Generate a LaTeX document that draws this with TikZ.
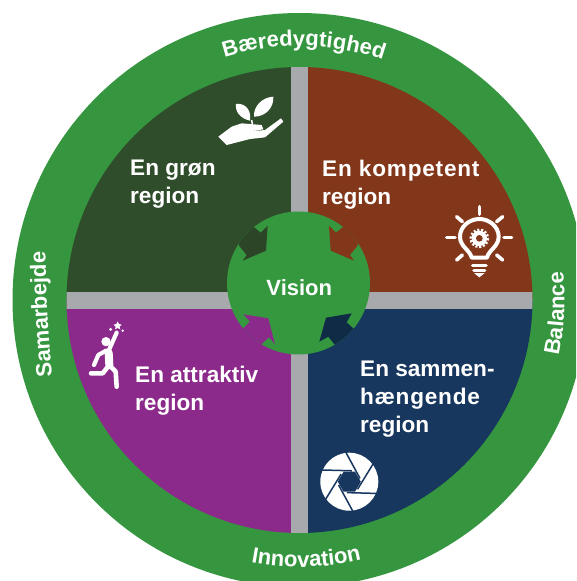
\documentclass[tikz,border=0pt]{standalone}
\usepackage{fontspec}
\setmainfont{Liberation Sans}
\usetikzlibrary{decorations.text}
\definecolor{ringgreen}{HTML}{35963F}
\definecolor{hubgreen}{HTML}{35983F}
\definecolor{qgreen}{HTML}{2F4D2B}
\definecolor{qbrown}{HTML}{82371A}
\definecolor{qpurple}{HTML}{8B2A8B}
\definecolor{qblue}{HTML}{17375E}
\definecolor{notchgreen}{HTML}{2C4526}
\definecolor{notchblue}{HTML}{0F2B45}
\definecolor{bargrey}{HTML}{A7A9AD}
\newcommand{\widerline}[1]{{\addfontfeature{LetterSpace=3.5}#1}}
\tikzset{
  x=1pt,y=1pt,
  qlabel/.style={text=white,anchor=north west,inner sep=0pt,align=left,font=\fontsize{22.6}{28}\selectfont\bfseries},
  hublabel/.style={text=white,inner sep=0pt,font=\fontsize{22}{26}\selectfont\bfseries},
  ringtext/.style={decorate,decoration={text along path,text align=center,
     text={|\fontsize{22}{26}\selectfont\bfseries\color{white}|#1}}},
  iconline/.style={draw=white,line cap=round,line join=round,fill=none},
}
\begin{document}
\begin{tikzpicture}
\useasboundingbox (0,0) rectangle (576,-581);
\clip (0,0) rectangle (576,-581);
\fill[white] (0,0) rectangle (576,-581);
\coordinate (c) at (299.5,-300);
% outer ring
\fill[ringgreen] (c) circle[radius=287];
% quadrants
\begin{scope}
  \clip (c) circle[radius=233];
  \fill[qgreen] (0,0) rectangle (299.5,-300);
  \fill[qbrown] (299.5,0) rectangle (576,-300);
  \fill[qpurple] (0,-300) rectangle (299.5,-581);
  \fill[qblue] (299.5,-300) rectangle (576,-581);
  \fill[bargrey] (291,0) rectangle (308,-581);
  \fill[bargrey] (0,-292) rectangle (576,-309);
\end{scope}
% ring text
\path[ringtext={Samarbejde}] (52.5,-379) .. controls (48,-335) and (46,-295) .. (45.5,-249);
\begin{scope}[shift={(c)}]
  \path[ringtext={Bæredygtighed}] (112:254) arc[start angle=112,end angle=66,radius=254];
  \path[ringtext={Innovation}] (-105:267) arc[start angle=-105,end angle=-72,radius=267];
  \path[ringtext={Balance}] (-14:265) arc[start angle=-14,end angle=8,radius=265];
\end{scope}
% hub
\fill[hubgreen] (298.5,-283) circle[radius=71.5];
\begin{scope}
  \clip (298.5,-283) circle[radius=71.5];
  \begin{scope}[shift={(190,-190)},x=0.33333pt,y=-0.33333pt]
    \fill[notchgreen] (130,100)--(190,110)--(212,128)--(233,107)--(228,182)--(158,212)--(170,195)--(148,168)--cycle;
    \fill[qbrown] (520,100)--(460,110)--(438,128)--(417,107)--(422,182)--(492,212)--(480,195)--(502,168)--cycle;
  \end{scope}
  \fill[qpurple] (235,-350)--(243.3,-328.3)--(250,-321.7)--(243.3,-314.3)--(268.3,-318.3)--(275,-344.3)--(269,-337.3)--(261.7,-344)--cycle;
  \fill[notchblue] (365,-350)--(335,-345)--(328.3,-336.7)--(319.3,-341.7)--(326,-317.7)--(351.7,-313.3)--(346.7,-322.3)--(355,-330)--cycle;
\end{scope}
\node[hublabel] (vision) at (299.3,-287.7) {Vision};
% quadrant labels
\node[qlabel] (green) at (130,-160) {En grøn\\region};
\node[qlabel] (comp) at (322,-160) {\widerline{En kompetent}\\region};
\node[qlabel] (attr) at (135,-366) {En attraktiv\\region};
\node[qlabel] (conn) at (360,-361) {En sammen-\\\widerline{hængende}\\region};
% plant in hand icon
\begin{scope}[shift={(200,-80)},x=0.33333pt,y=-0.33333pt]
  \fill[white] (150,122) .. controls (120,115) and (105,95) .. (108,72) .. controls (135,68) and (155,90) .. cycle;
  \fill[white] (162,110) .. controls (160,80) and (185,52) .. (220,50) .. controls (222,85) and (195,110) .. cycle;
  \draw[white,line width=1.5pt] (155,120)--(157,132);
  \fill[white] (55,170)--(95,140)--(125,130)--(185,135)--(190,148)--(145,155)--(195,150)--(243,115)--(250,125)--(195,172)--(150,177)--(80,195)--cycle;
\end{scope}
% bulb icon
\begin{scope}[shift={(430,-195)},x=0.33333pt,y=-0.33333pt]
  \draw[iconline,line width=4pt] (125,188) .. controls (120,165) and (90,155) .. (90,125) .. controls (90,95) and (118,72) .. (148,72) .. controls (178,72) and (206,95) .. (206,125) .. controls (206,155) and (176,165) .. (171,188) -- cycle;
  \draw[white,line width=3pt,dash pattern=on 2pt off 1.7pt] (148,130) circle[radius=25];
  \fill[white] (148,130) circle[radius=23];
  \fill[qbrown] (148,130) circle[radius=10];
  \draw[iconline,line width=3.6pt] (128,212)--(168,212);
  \draw[iconline,line width=3.6pt] (132,226)--(164,226);
  \fill[white] (132,234)--(164,234)--(148,247)--cycle;
  \foreach \a/\b/\p/\q in {148/35/148/58,80/65/97/80,50/128/75/128,218/65/200/80,222/128/245/128,80/195/97/180,218/195/200/180}
    \draw[iconline,line width=3.6pt] (\a,\b)--(\p,\q);
\end{scope}
% runner icon
\begin{scope}[shift={(70,-310)},x=0.33333pt,y=-0.33333pt]
  \fill[white] (108,95) circle[radius=14];
  \draw[iconline,line width=8pt] (116,128)--(118,165);
  \draw[iconline,line width=4.2pt] (116,122)--(140,68);
  \draw[iconline,line width=4.2pt] (108,122)--(85,135)--(72,165);
  \draw[iconline,line width=4.6pt] (118,165)--(98,190)--(63,190);
  \draw[iconline,line width=4.6pt] (118,165)--(137,185)--(140,230);
  \fill[white] (143,34)--(147,42)--(155,44)--(149,50)--(151,58)--(143,54)--(135,58)--(137,50)--(131,44)--(139,42)--cycle;
  \fill[white] (122,58) circle[radius=5];
  \fill[white] (158,62) circle[radius=4];
\end{scope}
% aperture icon
\begin{scope}[shift={(349.3,-481.7)}]
  \fill[white] (0,0) circle[radius=29];
  \fill[qblue] (0:11.5)--(60:11.5)--(120:11.5)--(180:11.5)--(240:11.5)--(300:11.5)--cycle;
  \foreach \r in {0,60,120,180,240,300}
    \draw[qblue,line width=1.5pt,rotate=\r] (-3.5,29.5)--(10.7,3.3);
\end{scope}
\end{tikzpicture}
\end{document}
